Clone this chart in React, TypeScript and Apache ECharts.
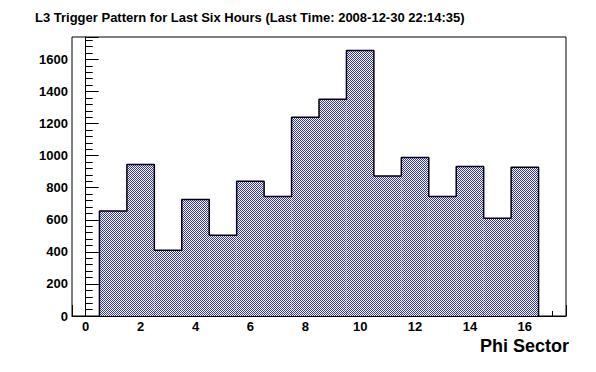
import React, { useEffect, useRef } from "react";
import * as echarts from "echarts";

const sectors = [1, 2, 3, 4, 5, 6, 7, 8, 9, 10, 11, 12, 13, 14, 15, 16];
const counts = [655, 945, 410, 727, 503, 840, 746, 1239, 1351, 1656, 873, 989, 746, 933, 609, 927];
const titleText = "L3 Trigger Pattern for Last Six Hours (Last Time: 2008-12-30 22:14:35)";
const xAxisTitle = "Phi Sector";
const xRange = [-0.5, 17.5];
const yRange = [0, 1740];
const binWidth = 1;

const FONT = "'Liberation Sans', Arial, Helvetica, sans-serif";

export default function App() {
  const ref = useRef<HTMLDivElement>(null);
  useEffect(() => {
    document.body.style.margin = "0";
    if (!ref.current) return;
    const chart = echarts.init(ref.current, undefined, { renderer: "svg" });

    const canvas = document.createElement("canvas");
    canvas.width = 2;
    canvas.height = 2;
    const ctx = canvas.getContext("2d")!;
    ctx.fillStyle = "#ffffff";
    ctx.fillRect(0, 0, 2, 2);
    ctx.fillStyle = "#3333cc";
    ctx.fillRect(0, 0, 1, 1);
    ctx.fillRect(1, 1, 1, 1);
    const pattern: any = {
      image: canvas.toDataURL(),
      repeat: "repeat",
      imageWidth: 2,
      imageHeight: 2,
    };

    const outline: number[][] = [];
    sectors.forEach((s, i) => {
      const lo = s - binWidth / 2;
      const hi = s + binWidth / 2;
      if (i === 0) outline.push([lo, 0]);
      outline.push([lo, counts[i]]);
      outline.push([hi, counts[i]]);
      if (i === sectors.length - 1) outline.push([hi, 0]);
    });

    chart.setOption({
      animation: false,
      backgroundColor: "#ffffff",
      title: {
        text: titleText,
        left: 30,
        top: 6,
        textStyle: { fontFamily: FONT, fontSize: 13, fontWeight: "bold", color: "#000" },
      },
      grid: {
        left: 72,
        top: 37,
        width: 494,
        height: 279,
        show: true,
        borderColor: "#000",
        borderWidth: 1,
        backgroundColor: "transparent",
      },
      xAxis: {
        type: "value",
        min: xRange[0],
        max: xRange[1],
        splitNumber: 9,
        axisLine: { show: true, lineStyle: { color: "#000", width: 1 } },
        axisTick: { show: true, inside: true, length: 11, lineStyle: { color: "#000" } },
        minorTick: { show: true, splitNumber: 4, length: 5, lineStyle: { color: "#000" } },
        splitLine: { show: false },
        axisLabel: {
          showMinLabel: false,
          showMaxLabel: false,
          margin: 4,
          fontFamily: FONT,
          fontSize: 13,
          fontWeight: "bold",
          color: "#000",
          formatter: (v: number) => String(v),
        },
      },
      yAxis: {
        type: "value",
        min: yRange[0],
        max: yRange[1],
        interval: 200,
        axisLine: { show: true, lineStyle: { color: "#000", width: 1 } },
        axisTick: { show: true, inside: true, length: 13, lineStyle: { color: "#000" } },
        minorTick: { show: true, splitNumber: 5, length: 7, lineStyle: { color: "#000" } },
        splitLine: { show: false },
        axisLabel: {
          showMaxLabel: false,
          margin: 4,
          fontFamily: FONT,
          fontSize: 13,
          fontWeight: "bold",
          color: "#000",
          formatter: (v: number) => String(v),
        },
      },
      graphic: [
        {
          type: "text",
          right: 27,
          top: 337,
          style: { text: xAxisTitle, font: `bold 18px ${FONT}`, fill: "#000" },
        },
      ],
      series: [
        {
          type: "custom",
          data: sectors.map((s, i) => [s, counts[i]]),
          encode: { x: 0, y: 1 },
          renderItem: (params: any, api: any) => {
            const x = api.value(0);
            const v = api.value(1);
            const p0 = api.coord([x - binWidth / 2, 0]);
            const p1 = api.coord([x + binWidth / 2, v]);
            return {
              type: "rect",
              shape: { x: p0[0], y: p1[1], width: p1[0] - p0[0], height: p0[1] - p1[1] },
              style: { fill: pattern },
            };
          },
          z: 1,
        },
        {
          type: "line",
          data: outline,
          showSymbol: false,
          symbol: "none",
          lineStyle: { color: "#000", width: 1.5 },
          z: 3,
        },
      ],
    });
    return () => chart.dispose();
  }, []);
  return <div ref={ref} style={{ width: 596, height: 372 }} />;
}
